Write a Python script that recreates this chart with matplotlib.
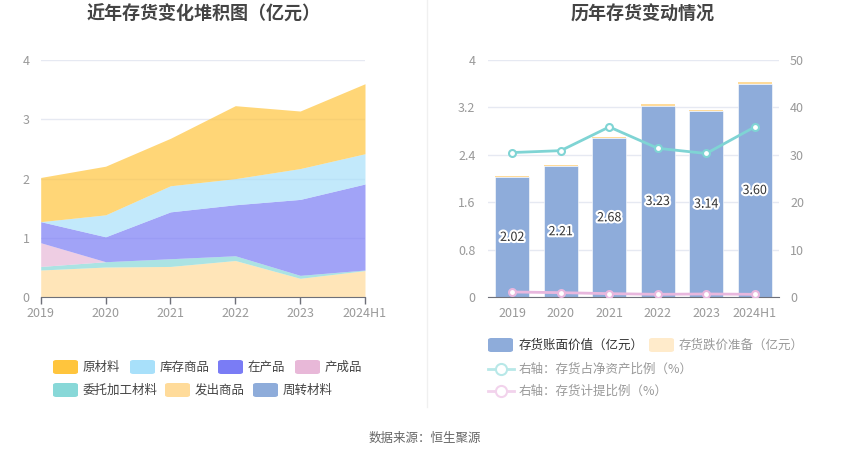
import matplotlib
matplotlib.use("Agg")
import matplotlib.pyplot as plt
import matplotlib.patheffects as pe
from matplotlib.patches import FancyBboxPatch
from matplotlib.lines import Line2D
import numpy as np

plt.rcParams['font.family'] = ['Noto Sans CJK SC', 'DejaVu Sans']

# ---------------- data ----------------
categories = ['2019', '2020', '2021', '2022', '2023', '2024H1']

# left chart (stacked areas, 亿元)
raw_material = [0.745, 0.82, 0.80, 1.23, 0.97, 1.18]     # 原材料
stock_goods = [0.0, 0.37, 0.44, 0.44, 0.52, 0.51]        # 库存商品
wip = [0.355, 0.42, 0.79, 0.86, 1.28, 1.45]              # 在产品
finished = [0.40, 0.0, 0.0, 0.0, 0.0, 0.0]               # 产成品
consigned = [0.06, 0.09, 0.13, 0.08, 0.05, 0.01]         # 委托加工材料
shipped = [0.46, 0.51, 0.52, 0.62, 0.32, 0.45]           # 发出商品
turnover = [0.0, 0.0, 0.0, 0.0, 0.0, 0.0]                # 周转材料

left_names = ['原材料', '库存商品', '在产品', '产成品', '委托加工材料', '发出商品', '周转材料']
left_series = [raw_material, stock_goods, wip, finished, consigned, shipped, turnover]
left_colors = ['#FFC53D', '#A8E0FA', '#7A7CF5', '#E8B8D8', '#88D8D8', '#FFDB9A', '#8EACDA']

# right chart
book_value = [2.02, 2.21, 2.68, 3.23, 3.14, 3.60]        # 存货账面价值（亿元）
reserve = [0.023, 0.022, 0.021, 0.020, 0.022, 0.023]      # 存货跌价准备（亿元）
ratio_net_assets = [30.5, 30.9, 35.9, 31.4, 30.3, 35.9]   # 存货占净资产比例（%）
provision_ratio = [1.12, 0.98, 0.77, 0.63, 0.70, 0.63]    # 存货计提比例（%）

right_names = ['存货账面价值（亿元）', '存货跌价准备（亿元）',
               '右轴：存货占净资产比例（%）', '右轴：存货计提比例（%）']

left_yticks = [0, 1, 2, 3, 4]
right_yticks = [0, 0.8, 1.6, 2.4, 3.2, 4]
right_yticklabels = ['0', '0.8', '1.6', '2.4', '3.2', '4']
right2_yticks = [0, 10, 20, 30, 40, 50]

# ---------------- figure ----------------
W, H = 850, 459
fig = plt.figure(figsize=(W / 100, H / 100), dpi=100)

def fx(px):
    return px / W

def fy(py):
    return 1 - py / H

tick_color = '#999999'
grid_color = '#E6E9F2'
axis_color = '#6E7079'

# ---- left axes ----
axL = fig.add_axes([fx(40.7), fy(297.3), fx(365 - 40.7), (297.3 - 60) / H])
x = np.arange(len(categories))
# stack from bottom: 周转材料, 发出商品, 委托加工材料, 产成品, 在产品, 库存商品, 原材料
order = list(range(len(left_series)))[::-1]
base = np.zeros(len(categories))
for i in order:
    vals = np.array(left_series[i], dtype=float)
    top = base + vals
    axL.fill_between(x, base, top, color=left_colors[i], alpha=0.7, linewidth=0, zorder=2)
    base = top
axL.set_xlim(0, len(categories) - 1)
axL.set_ylim(0, 4)
axL.set_yticks(left_yticks)
axL.set_yticklabels([str(v) for v in left_yticks])
axL.set_xticks(x)
axL.set_xticklabels(categories)
for s in ['top', 'right', 'left']:
    axL.spines[s].set_visible(False)
axL.spines['bottom'].set_color(axis_color)
axL.spines['bottom'].set_zorder(5)
axL.tick_params(axis='x', colors=axis_color, length=5, width=1, pad=2, labelsize=9, labelcolor=tick_color)
axL.tick_params(axis='y', length=0, pad=8, labelsize=9, labelcolor=tick_color)
axL.grid(axis='y', color=grid_color, linewidth=1, zorder=0)
axL.set_axisbelow(True)

# ---- right axes ----
axR = fig.add_axes([fx(488), fy(297.3), fx(779 - 488), (297.3 - 60) / H])
bw = 0.7
axR.bar(x, book_value, width=bw, color='#8EACDA', zorder=2, edgecolor='white', linewidth=0.4)
axR.bar(x, reserve, width=bw, bottom=book_value, color='#FFDB9A', zorder=2, linewidth=0)
for xi, v in zip(x, book_value):
    axR.text(xi, v / 2, f'{v:.2f}', ha='center', va='center', fontsize=9, color='#333333', zorder=6,
             path_effects=[pe.withStroke(linewidth=3, foreground='white')])
axR.set_xlim(-0.5, len(categories) - 0.5)
axR.set_ylim(0, 4)
axR.set_yticks(right_yticks)
axR.set_yticklabels(right_yticklabels)
axR.set_xticks(x)
axR.set_xticklabels(categories)
for s in ['top', 'right', 'left']:
    axR.spines[s].set_visible(False)
axR.spines['bottom'].set_color(axis_color)
axR.spines['bottom'].set_zorder(5)
axR.tick_params(axis='x', length=0, pad=7, labelsize=9, labelcolor=tick_color)
axR.tick_params(axis='y', length=0, pad=9, labelsize=9, labelcolor=tick_color)
axR.grid(axis='y', color=grid_color, linewidth=1, zorder=0)
axR.set_axisbelow(True)

axR2 = axR.twinx()
axR2.set_ylim(0, 50)
axR2.set_yticks(right2_yticks)
axR2.set_yticklabels([str(v) for v in right2_yticks])
for s in ['top', 'right', 'left', 'bottom']:
    axR2.spines[s].set_visible(False)
axR2.tick_params(axis='y', length=0, pad=8, labelsize=9, labelcolor=tick_color)
axR2.plot(x, ratio_net_assets, color='#7FD4D4', linewidth=2, marker='o', markersize=5,
          markerfacecolor='white', markeredgecolor='#7FD4D4', markeredgewidth=1.5, zorder=4)
axR2.plot(x, provision_ratio, color='#E8B7DE', linewidth=2, marker='o', markersize=5,
          markerfacecolor='white', markeredgecolor='#E8B7DE', markeredgewidth=1.5, zorder=4)

# ---- titles ----
fig.text(fx(204), fy(14), '近年存货变化堆积图（亿元）', ha='center', va='center',
         fontsize=13, fontweight='bold', color='#444444')
fig.text(fx(643), fy(14), '历年存货变动情况', ha='center', va='center',
         fontsize=13, fontweight='bold', color='#444444')

# ---- divider ----
fig.add_artist(Line2D([fx(427), fx(427)], [fy(0), fy(407)], color='#F0F0F0', linewidth=1))

# ---- legends ----
def box(xpx, ypx, color):
    p = FancyBboxPatch((fx(xpx), fy(ypx + 7)), fx(25), 14 / H,
                       boxstyle='round,pad=0,rounding_size=0.004',
                       transform=fig.transFigure, facecolor=color, edgecolor='none')
    fig.add_artist(p)

left_pos = [(53, 367), (130, 367), (218, 367), (295, 367), (53, 390), (165, 390), (253, 390)]
for name, col, (lx, ly) in zip(left_names, left_colors, left_pos):
    box(lx, ly, col)
    fig.text(fx(lx + 30), fy(ly), name, ha='left', va='center', fontsize=9, color='#444444')

# right legend
box(488, 345, '#8EACDA')
fig.text(fx(519), fy(345), right_names[0], ha='left', va='center', fontsize=9, color='#333333')
box(649, 345, '#FFEBCB')
fig.text(fx(679), fy(345), right_names[1], ha='left', va='center', fontsize=9, color='#999999')
for (ly, col, name) in [(369, '#B8E8E8', right_names[2]), (391, '#F2D3EC', right_names[3])]:
    fig.add_artist(Line2D([fx(488), fx(514)], [fy(ly), fy(ly)], color=col, linewidth=2))
    fig.add_artist(Line2D([fx(501)], [fy(ly)], marker='o', markersize=8, markerfacecolor='white',
                          markeredgecolor=col, markeredgewidth=1.5, linestyle='none'))
    fig.text(fx(519), fy(ly), name, ha='left', va='center', fontsize=9, color='#999999')

# ---- source ----
fig.text(fx(425), fy(438), '数据来源：恒生聚源', ha='center', va='center', fontsize=9, color='#666666')

fig.savefig('out.png', dpi=100)
